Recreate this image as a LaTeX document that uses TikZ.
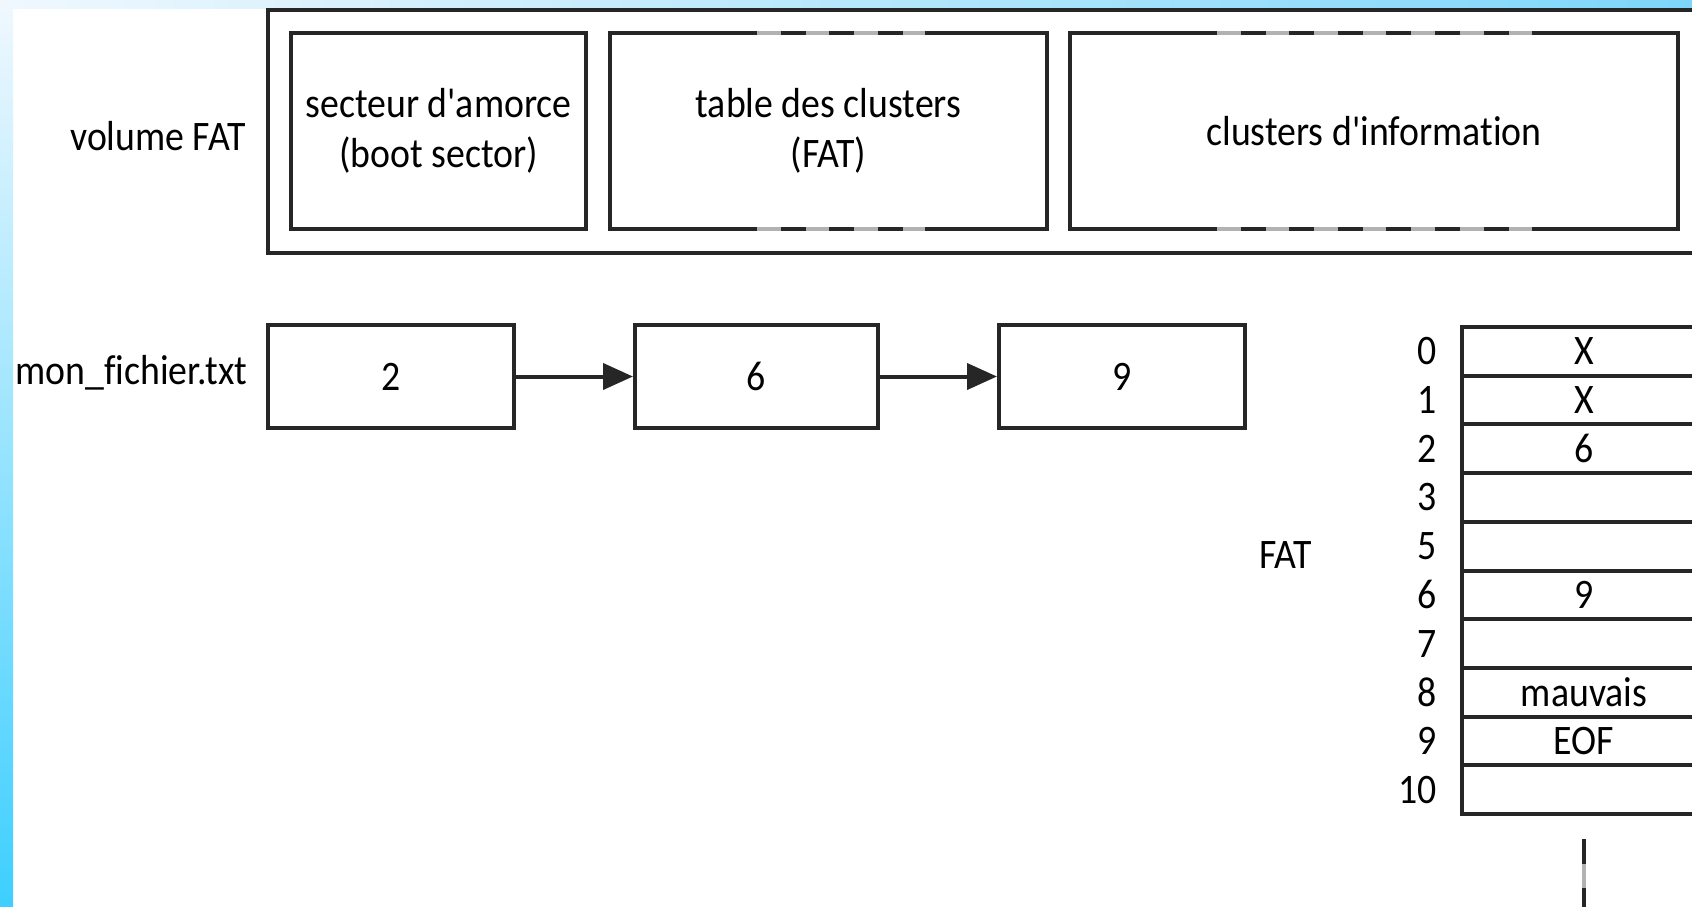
\documentclass[tikz,border=0pt]{standalone}
\usepackage{fontspec}
\setmainfont{Carlito}[FakeStretch=0.9,Ligatures={TeXOff,CommonOff}]
\usetikzlibrary{positioning}
\usetikzlibrary{calc}
\usetikzlibrary{arrows.meta}

\definecolor{bgpale}{HTML}{F0F8FE}
\definecolor{bgcyan}{HTML}{3ECFFF}
\definecolor{bgsky}{HTML}{7DD6FA}

\tikzset{
  box/.style={draw=black!85, line width=2pt, align=center, inner sep=0pt},
  part/.style={box, minimum height=98pt},
  cell/.style={box, minimum width=123pt, minimum height=51.5pt},
  fatrow/.style={box, minimum width=122pt, minimum height=24.35pt, anchor=north west},
  idx/.style={inner sep=0pt},
  gapline/.style={draw=black!30, line width=2pt},
  dashline/.style={draw=black!85, line width=2pt, dash pattern=on 12.5pt off 11.8pt, dash phase=12.5pt},
  arr/.style={draw=black!85, line width=2pt, -{Triangle[length=15pt,width=13pt]}}
}

\begin{document}
\begin{tikzpicture}[x=0.5pt,y=-0.5pt,font=\fontsize{21}{25}\selectfont]
        \useasboundingbox (0,0) rectangle (1692,906);
        % fond de la diapo
        \shade[top color=bgpale, bottom color=bgcyan] (0,0) rectangle (13,906);
        \shade[left color=bgpale, right color=bgsky] (0,0) rectangle (1692,8);

        % volume
        \draw[draw=black!85, line width=2pt] (268,10) rectangle (1730,253);
        \node[idx, anchor=base east] (vol) at (246,150) {volume FAT};
        \node[part, minimum width=147.5pt] (boot) at (438.5,131) {secteur d'amorce\\(boot sector)};
        \node[part, minimum width=218.5pt] (clustab) at (828.5,131) {table des clusters\\(FAT)};
        \node[part, minimum width=304pt] (data) at (1374,131) {clusters d'information};
        \foreach \xa/\xb in {757/925,1217/1533}
          \foreach \yy in {33,229} {
            \draw[gapline] (\xa,\yy) -- (\xb,\yy);
            \draw[dashline] (\xa,\yy) -- (\xb,\yy);
          }

        % chaine du fichier
        \node[idx, anchor=base east] (file) at (248,384) {mon\_fichier.txt};
        \node[cell] (c2) at (391,376.5) {2};
        \node[cell, minimum width=121.5pt, right=58.5pt of c2] (c6) {6};
        \node[cell, right=58.5pt of c6] (c9) {9};
        \draw[arr] (c2) -- (c6);
        \draw[arr] (c6) -- (c9);

        % table FAT
        \node (fatlbl) at (1286,555) {FAT};
        \foreach \idx/\val [count=\i from 0] in {0/X,1/X,2/6,3/{},5/{},6/9,7/{},8/mauvais,9/EOF,10/{}} {
          \node[fatrow] (r\i) at (1460,{325+48.7*\i}) {\val};
          \node[idx, left=11.5pt of r\i] (n\i) {\idx};
        }
        \coordinate (more) at ($(r9.south)+(0,23)$);
        \draw[gapline] (more) -- ++(0,90);
        \draw[dashline, dash phase=0pt] (more) -- ++(0,90);
\end{tikzpicture}
\end{document}
